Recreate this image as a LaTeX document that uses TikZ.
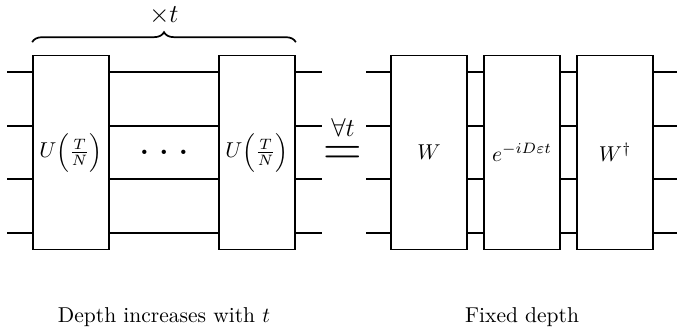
\documentclass[tikz,border=0pt]{standalone}
\usepackage{amsmath, amssymb}
\usetikzlibrary{decorations.pathreplacing}

\begin{document}
\begin{tikzpicture}
    [x=0.465pt, y=0.465pt,
    node distance=43.25pt,
    thick,
    gate/.style={draw, fill=white, inner sep=0pt, minimum width=35.3pt, minimum height=90.2pt}]
        \useasboundingbox (0,0) rectangle (678,333);
        %% Circuit growing with t
        \node[gate] (U1) at (71,180.5) {$U\Big(\frac{T}{N}\Big)$};
        \node[right of = U1] (dots) {\huge$\ldots$};
        \node[gate, right of = dots] (U2) {$U\Big(\frac{T}{N}\Big)$};
        \node[above of = dots, node distance=63.8pt, inner sep=0pt] (rep) {\large$\times t$};
        \node[right of = U2, node distance=40pt, yshift=-1.7pt] (eq) {\Huge$=$};
        \node[above of = eq, node distance=13.5pt, inner sep=0pt] (all) {\large$\forall t$};
        %% Circuit of fixed depth
        \node[gate, right of = U2, node distance=80pt] (W) {$W$};
        \node[gate, right of = W] (E) {$e^{-iD\varepsilon t}$};
        \node[gate, right of = E] (Wd) {$W^\dagger$};
        \coordinate (inL) at (7,180.5);
        \coordinate (outL) at (322,180.5);
        \coordinate (inR) at (366,180.5);
        \coordinate (outR) at (677,180.5);
        
        \foreach \y in {37.4pt,12.3pt,-12.3pt,-37.4pt} {
            \draw ([yshift=\y]inL) to ([yshift=\y]U1.west);
            \draw ([yshift=\y]U1.east) to ([yshift=\y]U2.west);
            \draw ([yshift=\y]U2.east) to ([yshift=\y]outL);
            \draw ([yshift=\y]inR) to ([yshift=\y]W.west);
            \draw ([yshift=\y]W.east) to ([yshift=\y]E.west);
            \draw ([yshift=\y]E.east) to ([yshift=\y]Wd.west);
            \draw ([yshift=\y]Wd.east) to ([yshift=\y]outR);
        }
        \draw[decorate, decoration={brace, amplitude=4.65pt}]
            ([yshift=5.8pt]U1.north west) to ([yshift=5.8pt]U2.north east);
        
        \node[below of = E, node distance=76.5pt] (fixed) {Fixed depth};
        \node[left of = fixed, node distance=166.5pt] (grow) {Depth increases with $t$};
    \end{tikzpicture}
\end{document}
